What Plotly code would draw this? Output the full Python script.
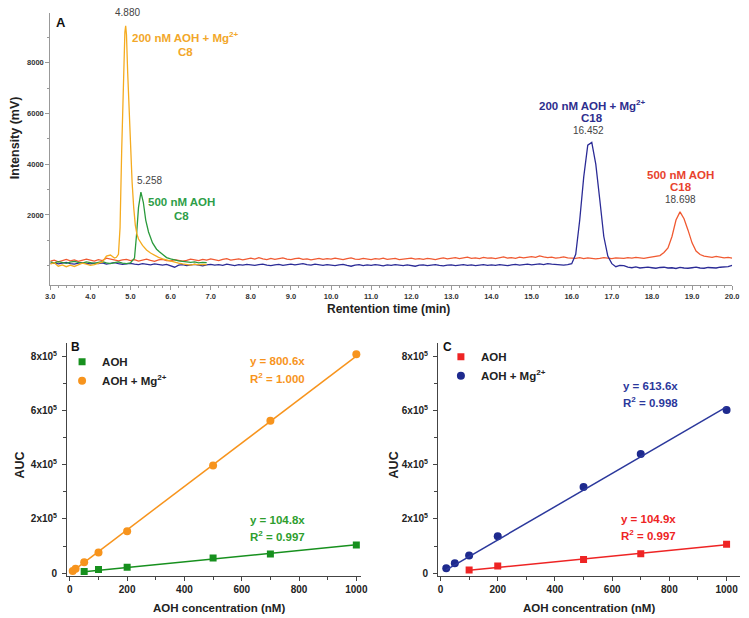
import numpy as np
import plotly.graph_objects as go

W, H = 749, 618
FONT = "Arial, Liberation Sans, sans-serif"

# ---------------- Panel A : chromatograms ----------------
t_long = np.round(np.arange(30, 201) / 10.0, 1)   # 3.0 ... 20.0 min, 0.1 min sampling

blue_c18 = [
    90, 110, 70, 100, 130, 80, 60, 100, 120, 90,
    70, 100, 80, 110, 60, 90, 120, 80, 50, 70,
    90, 60, 40, 80, 50, 30, 70, 40, 20, 50,
    10, -60, 20, 40, 0, 30, 50, 20, -10, 30,
    50, 20, 40, 10, 60, 30, 0, 40, 20, 50,
    30, 10, 40, 60, 20, 0, 30, 50, 10, 40,
    60, 30, 50, 80, 40, 20, 60, 30, 10, 40,
    20, 0, 30, 50, 10, -20, 20, 40, 0, 30,
    10, 40, 20, -10, 30, 10, 40, 20, 0, 30,
    10, -20, 20, 30, 0, 20, 40, 10, -10, 20,
    30, 0, 20, 40, 10, 30, 0, 20, 40, 10,
    30, 10, 40, 20, 0, 30, 50, 20, 40, 60,
    30, 50, 70, 40, 80, 60, 50, 30, 20, 40,
    80, 450, 1800, 3500, 4750, 4860, 4000, 2600, 1150, 380,
    80, -40, 10, 0, -60, -80, -50, -90, -70, -60,
    -80, -100, -70, -60, -90, -80, -110, -70, -90, -100,
    -80, -60, -90, -100, -70, -80, -90, -60, -50, -40,
    10,
]

red_c18 = [
    180, 220, 150, 200, 250, 190, 230, 170, 210, 260,
    220, 180, 240, 200, 300, 260, 210, 190, 230, 250,
    200, 240, 180, 220, 260, 210, 170, 230, 250, 200,
    190, 240, 220, 180, 210, 260, 230, 200, 250, 220,
    270, 230, 200, 250, 280, 220, 240, 270, 230, 260,
    300, 260, 320, 270, 240, 290, 250, 280, 310, 260,
    240, 280, 300, 250, 270, 230, 260, 290, 250, 280,
    260, 300, 270, 240, 280, 310, 260, 250, 290, 270,
    240, 280, 260, 300, 250, 270, 290, 240, 260, 280,
    300, 260, 280, 250, 290, 270, 240, 280, 310, 270,
    290, 320, 280, 300, 340, 290, 310, 280, 330, 300,
    310, 280, 330, 350, 300, 320, 290, 340, 310, 330,
    360, 330, 390, 350, 320, 340, 300, 320, 350, 310,
    300, 290, 320, 280, 310, 300, 270, 290, 320, 300,
    280, 310, 300, 290, 320, 300, 330, 310, 290, 320,
    340, 360, 400, 520, 700, 1150, 1800, 2120, 1850, 1400,
    900, 580, 440, 380, 360, 330, 370, 340, 310, 330,
    300,
]

t_orange = [3.0, 3.1, 3.2, 3.3, 3.4, 3.5, 3.6, 3.7, 3.8, 3.9, 4.0, 4.1, 4.2, 4.3, 4.4, 4.5, 4.6,
            4.65, 4.70, 4.74, 4.78, 4.82, 4.86, 4.88, 4.90, 4.93, 4.96, 5.00, 5.04, 5.08, 5.12, 5.16, 5.20,
            5.3, 5.4, 5.5, 5.6, 5.7, 5.8, 5.9, 6.0, 6.1, 6.2, 6.3, 6.4, 6.5, 6.6, 6.7, 6.8, 6.9]
orange_c8 = [60, 120, -20, 30, -40, 20, -30, 40, 100, 60, 10, 40, 80, 150, 380, 420, 300,
             330, 450, 1500, 4500, 7500, 9200, 9450, 9100, 7600, 6200, 4700, 3300, 2300, 1600, 1250, 1050,
             800, 620, 500, 400, 330, 270, 220, 170, 130, 100, 70, 40, 20, 60, 30, 50, 40]

t_green = [3.0, 3.1, 3.2, 3.3, 3.4, 3.5, 3.6, 3.7, 3.8, 3.9, 4.0, 4.1, 4.2, 4.3, 4.4, 4.5, 4.6, 4.7,
           4.8, 4.9, 5.0, 5.05, 5.10, 5.15, 5.20, 5.26, 5.32, 5.38, 5.45, 5.55, 5.65, 5.72, 5.80, 5.90,
           6.0, 6.1, 6.2, 6.3, 6.4, 6.5, 6.6, 6.7, 6.8, 6.9]
green_c8 = [150, 110, 160, 120, 90, 140, 170, 130, 100, 150, 120, 90, 130, 160, 110, 80, 120, 150,
            100, 80, 110, 200, 300, 1200, 2300, 2900, 2500, 1800, 1330, 900, 650, 550, 430, 320,
            270, 220, 190, 170, 150, 130, 150, 110, 130, 120]

peak_labels = ["4.880", "5.258", "16.452", "18.698"]

# ---------------- Panel B ----------------
conc_b_aoh = [50, 100, 200, 500, 700, 1000]
auc_b_aoh = [6000, 13500, 22000, 56000, 71000, 104000]
conc_b_mg = [10, 20, 50, 100, 200, 500, 700, 1000]
auc_b_mg = [8000, 16000, 40000, 76000, 155000, 397000, 562000, 808000]
slope_b_aoh, r2_b_aoh = 104.8, "0.997"
slope_b_mg, r2_b_mg = 800.6, "1.000"

# ---------------- Panel C ----------------
conc_c_aoh = [100, 200, 500, 700, 1000]
auc_c_aoh = [12000, 27000, 51000, 72000, 107000]
conc_c_mg = [20, 50, 100, 200, 500, 700, 1000]
auc_c_mg = [18000, 37000, 65000, 136000, 318000, 440000, 602000]
slope_c_aoh, r2_c_aoh = 104.9, "0.997"
slope_c_mg, r2_c_mg = 613.6, "0.998"

auc_ticks = [0, 200000, 400000, 600000, 800000]
auc_ticktext = ["0", "2x10<sup>5</sup>", "4x10<sup>5</sup>", "6x10<sup>5</sup>", "8x10<sup>5</sup>"]

# colours
C_OR_A, C_GR_A, C_BL_A, C_RD_A = "#F5AB1F", "#2A9A3C", "#2B2B96", "#F05A32"
C_OR_B, C_GR_B = "#F7941D", "#17901E"
C_RD_C, C_BL_C = "#EE2424", "#1E2A8E"

fig = go.Figure()

# Panel A traces
fig.add_trace(go.Scatter(x=t_long, y=red_c18, mode="lines", line=dict(color=C_RD_A, width=1.3),
                         showlegend=False, xaxis="x", yaxis="y"))
fig.add_trace(go.Scatter(x=t_long, y=blue_c18, mode="lines", line=dict(color=C_BL_A, width=1.3),
                         showlegend=False, xaxis="x", yaxis="y"))
fig.add_trace(go.Scatter(x=t_green, y=green_c8, mode="lines", line=dict(color=C_GR_A, width=1.3),
                         showlegend=False, xaxis="x", yaxis="y"))
fig.add_trace(go.Scatter(x=t_orange, y=orange_c8, mode="lines", line=dict(color=C_OR_A, width=1.3),
                         showlegend=False, xaxis="x", yaxis="y"))


def fit_line(conc, slope):
    xs = [min(conc), max(conc)]
    return xs, [slope * v for v in xs]


# Panel B
xb1, yb1 = fit_line(conc_b_mg, slope_b_mg)
xb2, yb2 = fit_line(conc_b_aoh, slope_b_aoh)
fig.add_trace(go.Scatter(x=conc_b_aoh, y=auc_b_aoh, mode="markers", name="AOH",
                         marker=dict(symbol="square", size=7, color=C_GR_B),
                         xaxis="x2", yaxis="y2", legend="legend2"))
fig.add_trace(go.Scatter(x=conc_b_mg, y=auc_b_mg, mode="markers", name="AOH + Mg<sup>2+</sup>",
                         marker=dict(symbol="circle", size=8, color=C_OR_B),
                         xaxis="x2", yaxis="y2", legend="legend2"))
fig.add_trace(go.Scatter(x=xb1, y=yb1, mode="lines", line=dict(color=C_OR_B, width=1.5),
                         showlegend=False, xaxis="x2", yaxis="y2"))
fig.add_trace(go.Scatter(x=xb2, y=yb2, mode="lines", line=dict(color=C_GR_B, width=1.5),
                         showlegend=False, xaxis="x2", yaxis="y2"))

# Panel C
xc1, yc1 = fit_line(conc_c_mg, slope_c_mg)
xc2, yc2 = fit_line(conc_c_aoh, slope_c_aoh)
fig.add_trace(go.Scatter(x=conc_c_aoh, y=auc_c_aoh, mode="markers", name="AOH",
                         marker=dict(symbol="square", size=7, color=C_RD_C),
                         xaxis="x3", yaxis="y3", legend="legend3"))
fig.add_trace(go.Scatter(x=conc_c_mg, y=auc_c_mg, mode="markers", name="AOH + Mg<sup>2+</sup>",
                         marker=dict(symbol="circle", size=8, color=C_BL_C),
                         xaxis="x3", yaxis="y3", legend="legend3"))
fig.add_trace(go.Scatter(x=xc1, y=yc1, mode="lines", line=dict(color="#2B389C", width=1.5),
                         showlegend=False, xaxis="x3", yaxis="y3"))
fig.add_trace(go.Scatter(x=xc2, y=yc2, mode="lines", line=dict(color=C_RD_C, width=1.5),
                         showlegend=False, xaxis="x3", yaxis="y3"))


def px(x):
    return x / W


def py(y):
    return 1 - y / H


ann = []


def text(x, y, s, size, color, bold=True, angle=0):
    ann.append(dict(x=px(x), y=py(y), xref="paper", yref="paper", text=s, showarrow=False,
                    xanchor="center", yanchor="middle", textangle=angle,
                    font=dict(family=FONT, size=size, color=color, weight="bold" if bold else "normal")))


# Panel A labels
text(57, 23, "A", 13, "#111")
text(124, 13, peak_labels[0], 10, "#444", bold=False)
text(183, 37, "200 nM AOH + Mg<sup>2+</sup>", 11.5, "#F2A72A")
text(183, 52, "C8", 11.5, "#F2A72A")
text(147, 181, peak_labels[1], 10, "#444", bold=False)
text(179, 203, "500 nM AOH", 11.5, "#2E9E48")
text(179, 217, "C8", 11.5, "#2E9E48")
text(597, 106, "200 nM AOH + Mg<sup>2+</sup>", 11.5, "#2E2E8E")
text(597, 119, "C18", 11.5, "#2E2E8E")
text(593, 131, peak_labels[2], 10, "#444", bold=False)
text(687, 176, "500 nM AOH", 11.5, "#E8432E")
text(687, 188, "C18", 11.5, "#E8432E")
text(687, 200, peak_labels[3], 10, "#444", bold=False)
text(10, 138, "Intensity (mV)", 12.5, "#222", angle=-90)
text(390, 311, "Rentention time (min)", 12, "#222")

# Panel B labels
text(72, 349, "B", 12, "#111")
text(277, 363, "y = %.1fx" % slope_b_mg, 11.5, C_OR_B)
text(277, 380, "R<sup>2</sup> = " + r2_b_mg, 11.5, C_OR_B)
text(277, 523, "y = %.1fx" % slope_b_aoh, 11.5, "#2E9E2E")
text(277, 539, "R<sup>2</sup> = " + r2_b_aoh, 11.5, "#2E9E2E")
text(15, 467, "AUC", 12.5, "#222", angle=-90)
text(217, 611, "AOH concentration (nM)", 11.5, "#222")

# Panel C labels
text(450, 349, "C", 12, "#111")
text(656, 388, "y = %.1fx" % slope_c_mg, 11.5, "#2B389C")
text(656, 404, "R<sup>2</sup> = " + r2_c_mg, 11.5, "#2B389C")
text(654, 522, "y = %.1fx" % slope_c_aoh, 11.5, C_RD_C)
text(654, 538, "R<sup>2</sup> = " + r2_c_aoh, 11.5, C_RD_C)
text(395, 467, "AUC", 12.5, "#222", angle=-90)
text(594, 611, "AOH concentration (nM)", 11.5, "#222")

axA = dict(showline=True, linecolor="#999", linewidth=1, ticks="outside", ticklen=4, tickcolor="#999",
           showgrid=False, zeroline=False, tickfont=dict(family=FONT, size=7.5, color="#333", weight="bold"))
axBC = dict(showline=True, linecolor="#444", linewidth=1, ticks="outside", ticklen=4, tickcolor="#444",
            showgrid=False, zeroline=False, tickfont=dict(family=FONT, size=10, color="#222", weight="bold"))

legfont = dict(family=FONT, size=11.5, color="#222", weight="bold")

fig.update_layout(
    width=W, height=H, margin=dict(l=0, r=0, t=0, b=0),
    paper_bgcolor="white", plot_bgcolor="white",
    showlegend=True,
    xaxis=dict(domain=[px(46), px(739)], range=[3, 20], dtick=1, tick0=3, tickformat=".1f",
               minor=dict(dtick=0.2, ticks="outside", ticklen=2, tickcolor="#999"), anchor="y", **axA),
    yaxis=dict(domain=[py(286), py(13)], range=[-745, 9960], tickvals=[2000, 4000, 6000, 8000],
               minor=dict(dtick=1000, tick0=0, ticks="outside", ticklen=2, tickcolor="#999"), anchor="x", **axA),
    xaxis2=dict(domain=[px(63), px(362)], range=[-10, 1017], tickvals=[0, 200, 400, 600, 800, 1000],
                minor=dict(dtick=100, tick0=0, ticks="outside", ticklen=3, tickcolor="#444"), anchor="y2", **axBC),
    yaxis2=dict(domain=[py(579), py(345)], range=[-11000, 848000], tickvals=auc_ticks, ticktext=auc_ticktext,
                minor=dict(dtick=100000, tick0=0, ticks="outside", ticklen=3, tickcolor="#444"), anchor="x2",
                ticklabelstandoff=3, **axBC),
    xaxis3=dict(domain=[px(440), px(746.7)], range=[-9, 1046], tickvals=[0, 200, 400, 600, 800, 1000],
                minor=dict(dtick=100, tick0=0, ticks="outside", ticklen=3, tickcolor="#444"), anchor="y3", **axBC),
    yaxis3=dict(domain=[py(579), py(345)], range=[-11000, 848000], tickvals=auc_ticks, ticktext=auc_ticktext,
                minor=dict(dtick=100000, tick0=0, ticks="outside", ticklen=3, tickcolor="#444"), anchor="x3",
                ticklabelstandoff=3, **axBC),
    legend2=dict(x=px(58), y=py(349), xanchor="left", yanchor="top", font=legfont,
                 bgcolor="rgba(0,0,0,0)", traceorder="normal"),
    legend3=dict(x=px(443), y=py(344), xanchor="left", yanchor="top", font=legfont,
                 bgcolor="rgba(0,0,0,0)", traceorder="normal", tracegroupgap=0),
    annotations=ann,
)

# remove the browser's default 8px body margin so the figure sits at the page origin
fig.write_html("out.html", config={"displayModeBar": False},
               post_script="document.body.style.margin='0';document.body.style.overflow='hidden';")
